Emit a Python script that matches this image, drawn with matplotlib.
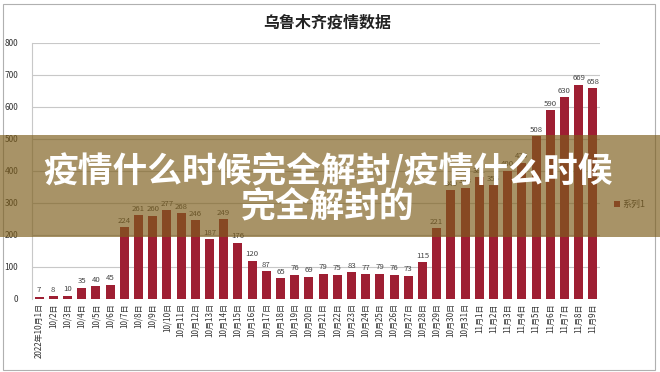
import matplotlib.pyplot as plt
from matplotlib.patches import Rectangle

plt.rcParams['font.family'] = ['Noto Sans CJK SC', 'DejaVu Sans']

# ── Données ──
dates = ['2022年10月1日', '10/2日', '10/3日', '10/4日', '10/5日', '10/6日', '10/7日',
         '10/8日', '10/9日', '10/10日'] + [f'10月{d}日' for d in range(11, 32)] \
        + [f'11月{d}日' for d in range(1, 10)]
cases = [7, 8, 10, 35, 40, 45, 224, 261, 260, 277, 268, 246, 187, 249, 176, 120,
         87, 65, 76, 69, 79, 75, 83, 77, 79, 76, 73, 115, 221, 340, 348, 381, 355,
         400, 425, 508, 590, 630, 669, 658]
yticks = list(range(0, 900, 100))

title = '乌鲁木齐疫情数据'
banner = '疫情什么时候完全解封/疫情什么时候\n完全解封的'

fig = plt.figure(figsize=(6.6, 3.72), dpi=100)
fig.patch.set_facecolor('white')
fig.add_artist(Rectangle((3 / 660, 2 / 372), 652 / 660, 366 / 372,
                         transform=fig.transFigure, fill=False,
                         edgecolor='#b0b0b0', lw=0.8))

ax = fig.add_axes([32 / 660, 1 - 299 / 372, 568 / 660, 256 / 372])
x = range(len(cases))
bars = ax.bar(x, cases, width=0.62, color='#9e1f33', label='系列1', zorder=3)
for xi, v in zip(x, cases):
    ax.text(xi, v + 8, str(v), ha='center', va='bottom', fontsize=5.6,
            color='#444444', zorder=4)

ax.set_xlim(-0.5, len(cases) - 0.5)
ax.set_ylim(0, 800)
ax.set_yticks(yticks)
ax.set_xticks(list(x))
ax.set_xticklabels(dates, rotation=90, fontsize=5.8, color='#333333')
ax.tick_params(axis='y', labelsize=6, colors='#333333', length=0, pad=10)
ax.tick_params(axis='x', length=0, pad=3)
ax.grid(axis='y', color='#c8c8c8', lw=0.8, zorder=0)
for s in ['top', 'right', 'bottom']:
    ax.spines[s].set_visible(False)
ax.spines['left'].set_color('#c8c8c8')

ax.legend(loc='center left', bbox_to_anchor=(1.01, 0.37), frameon=False,
          fontsize=6.5, handlelength=0.7, handleheight=0.7, handletextpad=0.3,
          labelcolor='#444444')

fig.text(0.495, 0.94, title, ha='center', va='center', fontsize=11.5,
         fontweight='bold', color='#222222')

# ── Bandeau semi-transparent ──
fig.add_artist(Rectangle((0, 1 - 237 / 372), 1, 102 / 372, transform=fig.transFigure,
                         facecolor='#7d5e1c', alpha=0.67, edgecolor='none', zorder=10))
fig.text(0.497, 1 - 189 / 372, banner, ha='center', va='center', fontsize=25,
         fontweight='black', color='white', linespacing=1.02, zorder=11)

fig.savefig('out.png', dpi=100)
